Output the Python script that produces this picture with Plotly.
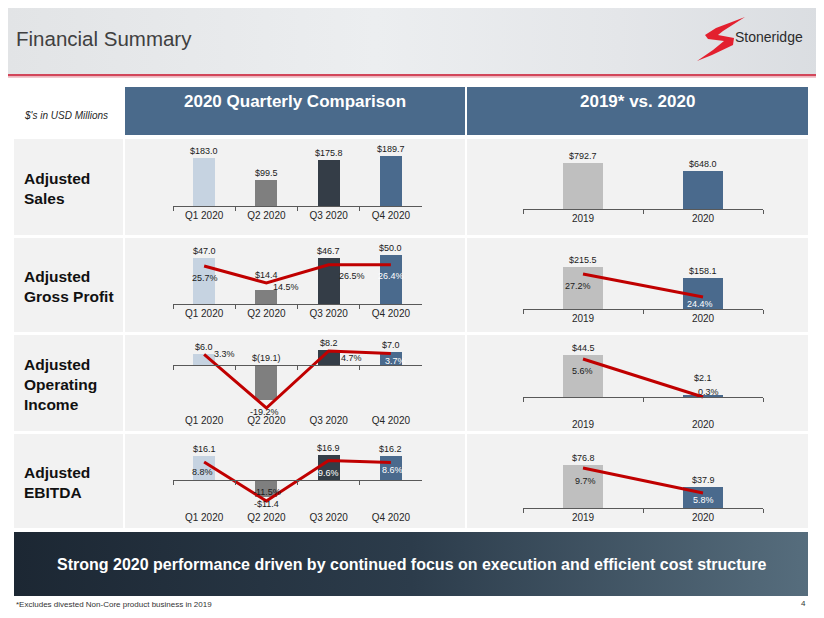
import base64
import plotly.graph_objects as go

W, H = 824, 618      # reference page size
OFF = 8              # page margin the browser puts round the figure
FW, FH = W - OFF, H - OFF

# --- data ---
quarters = ["Q1 2020", "Q2 2020", "Q3 2020", "Q4 2020"]
years = ["2019", "2020"]

q_sales = [183.0, 99.5, 175.8, 189.7]
q_gross_profit = [47.0, 14.4, 46.7, 50.0]
q_gp_margin = [25.7, 14.5, 26.5, 26.4]
q_op_income = [6.0, -19.1, 8.2, 7.0]
q_op_margin = [3.3, -19.2, 4.7, 3.7]
q_ebitda = [16.1, -11.4, 16.9, 16.2]
q_ebitda_margin = [8.8, -11.5, 9.6, 8.6]

y_sales = [792.7, 648.0]
y_gross_profit = [215.5, 158.1]
y_gp_margin = [27.2, 24.4]
y_op_income = [44.5, 2.1]
y_op_margin = [5.6, 0.3]
y_ebitda = [76.8, 37.9]
y_ebitda_margin = [9.7, 5.8]

row_labels = ["Adjusted<br>Sales", "Adjusted<br>Gross Profit",
              "Adjusted<br>Operating<br>Income", "Adjusted<br>EBITDA"]

# --- styles ---
q_colors = ["#c6d3e1", "#7f7f7f", "#343d47", "#4a6a8d"]
y_colors = ["#bfbfbf", "#4a6a8d"]
RED = "#c00000"
DARK = "#1a1a1a"
WHITE = "#ffffff"
AXIS = "#595959"
CELL = "#f2f2f2"
HEAD = "#4a6a8b"
SANS = "Liberation Sans, Arial, sans-serif"
NARROW = "Liberation Sans Narrow, Arial Narrow, Liberation Sans, sans-serif"

Q_X, A_X = (173, 422), (523, 763)

# one dict per small chart: geometry in page pixels, px-per-unit for the scales,
# label offsets (dx, dy) in pixels from each line point
charts = [
    dict(cats=quarters, bars=q_sales, colors=q_colors, x=Q_X, top=140, bottom=206,
         zero=206, ppu=0.2636, width=0.35),
    dict(cats=years, bars=y_sales, colors=y_colors, x=A_X, top=140, bottom=209,
         zero=209, ppu=0.058, width=0.33),
    dict(cats=quarters, bars=q_gross_profit, colors=q_colors, x=Q_X, top=240, bottom=304,
         zero=304, ppu=0.98, width=0.35, bar_shift=[0, 8, 0, 0],
         margins=q_gp_margin, mzero=305, mppu=1.52,
         moff=[(1, 12), (20, 4), (23, 11), (0, 11)],
         mcol=[DARK, DARK, DARK, WHITE]),
    dict(cats=years, bars=y_gross_profit, colors=y_colors, x=A_X, top=240, bottom=309,
         zero=309, ppu=0.195, width=0.33,
         margins=y_gp_margin, mzero=497, mppu=8.2,
         moff=[(-5, 12), (-3, 7)], mcol=[DARK, WHITE]),
    dict(cats=quarters, bars=q_op_income, colors=q_colors, x=Q_X, top=338, bottom=413,
         zero=365, ppu=1.85, width=0.35, neg="paren", low=True,
         margins=q_op_margin, mzero=362.2, mppu=2.385,
         moff=[(20, 0), (-2, 4), (23, 7), (5, 8)],
         mcol=[DARK, DARK, DARK, WHITE]),
    dict(cats=years, bars=y_op_income, colors=y_colors, x=A_X, top=338, bottom=417,
         zero=397, ppu=0.944, width=0.33, low=True, bar_shift=[0, 10],
         margins=y_op_margin, mzero=399.2, mppu=7.17,
         moff=[(-1, 12), (5, -5)], mcol=[DARK, DARK]),
    dict(cats=quarters, bars=q_ebitda, colors=q_colors, x=Q_X, top=438, bottom=510,
         zero=480, ppu=1.47, width=0.35, neg="minus", low=True,
         margins=q_ebitda_margin, mzero=478.9, mppu=1.92,
         moff=[(-2, 10), (1, -9), (0, 13), (2, 8)],
         mcol=[DARK, DARK, WHITE, WHITE]),
    dict(cats=years, bars=y_ebitda, colors=y_colors, x=A_X, top=438, bottom=508,
         zero=508, ppu=0.56, width=0.33,
         margins=y_ebitda_margin, mzero=530.2, mppu=6.41,
         moff=[(2, 13), (0, 7)], mcol=[DARK, WHITE]),
]


def px(p):
    return (p - OFF) / FW


def py(p):
    return 1 - (p - OFF) / FH


def money(v, style):
    if v >= 0:
        return f"${v:.1f}"
    if style == "paren":
        return f"$({-v:.1f})"
    return f"-${-v:.1f}"


def rect(x0, y0, x1, y1, color, layer="below"):
    # page-pixel rectangle, anchored at the top-left corner of the paper
    return dict(type="rect", xref="paper", yref="paper", xsizemode="pixel", ysizemode="pixel",
                xanchor=0, yanchor=1, x0=x0 - OFF, x1=x1 - OFF, y0=OFF - y0, y1=OFF - y1,
                fillcolor=color, line=dict(width=0), layer=layer)


def svg_uri(svg):
    return "data:image/svg+xml;base64," + base64.b64encode(svg.encode()).decode()


fig = go.Figure()
layout_axes = {}
annotations = []

for i, c in enumerate(charts):
    n = i + 1
    ncat = len(c["cats"])
    low = c.get("low", False)

    fig.add_trace(go.Bar(
        x=c["cats"], y=c["bars"], marker=dict(color=c["colors"], line=dict(width=0)),
        width=c["width"], xaxis=f"x{n}", yaxis=f"y{n}", hoverinfo="skip", showlegend=False))

    xa = dict(domain=[px(c["x"][0]), px(c["x"][1])], anchor=f"y{n}", type="category",
              range=[-0.5, ncat - 0.5], showgrid=False, zeroline=False, fixedrange=True,
              tickfont=dict(family=SANS, size=10, color="#262626"))
    if low:
        xa.update(showline=False, ticks="")
    else:
        xa.update(showline=True, linecolor=AXIS, linewidth=1, ticks="outside",
                  tickson="boundaries", ticklen=4, tickcolor=AXIS)
    layout_axes[f"xaxis{n}"] = xa

    yr = [(c["zero"] - c["bottom"]) / c["ppu"], (c["zero"] - c["top"]) / c["ppu"]]
    layout_axes[f"yaxis{n}"] = dict(domain=[py(c["bottom"]), py(c["top"])],
                                    anchor=f"x{n}", range=yr, visible=False, fixedrange=True)

    # value labels above / below bars (x as category index)
    shifts = c.get("bar_shift", [0] * ncat)
    for j, (v, s) in enumerate(zip(c["bars"], shifts)):
        below = v < 0 and c.get("neg") == "minus"
        annotations.append(dict(
            xref=f"x{n}", yref=f"y{n}", x=j, y=v if below else max(v, 0),
            yanchor="top" if below else "bottom", yshift=s, showarrow=False,
            text=money(v, c.get("neg")), font=dict(family=SANS, size=9, color=DARK)))

    if "margins" in c:
        m = n + 8
        mr = [(c["mzero"] - c["bottom"]) / c["mppu"], (c["mzero"] - c["top"]) / c["mppu"]]
        layout_axes[f"yaxis{m}"] = dict(overlaying=f"y{n}", anchor=f"x{n}", range=mr,
                                        visible=False, fixedrange=True)
        line_x = f"x{n}"
        if low:
            # axis line with boundary ticks drawn through zero
            line_x = f"x{m}"
            layout_axes[f"xaxis{m}"] = dict(
                overlaying=f"x{n}", anchor="free", position=py(c["zero"]),
                type="category", range=[-0.5, ncat - 0.5], showgrid=False, zeroline=False,
                showline=True, linecolor=AXIS, linewidth=1, ticks="outside",
                tickson="boundaries", ticklen=4, tickcolor=AXIS, showticklabels=False,
                fixedrange=True)
        fig.add_trace(go.Scatter(
            x=c["cats"], y=c["margins"], mode="lines", line=dict(color=RED, width=3),
            cliponaxis=False, xaxis=line_x, yaxis=f"y{m}",
            hoverinfo="skip", showlegend=False))
        # margin % labels next to the line points
        for j, (v, (dx, dy), col) in enumerate(zip(c["margins"], c["moff"], c["mcol"])):
            annotations.append(dict(
                xref=f"x{n}", yref=f"y{m}", x=j, y=v, xshift=dx, yshift=-dy,
                xanchor="center", yanchor="middle", showarrow=False,
                text=f"{v:.1f}%", font=dict(family=SANS, size=9, color=col)))

# --- slide furniture ---
shapes = []
row_bounds = [(139, 235), (238, 332), (335, 431), (434, 528)]
for (t, b) in row_bounds:
    shapes.append(rect(14, t, 123, b, CELL))
    shapes.append(rect(125, t, 465, b, CELL))
    shapes.append(rect(467, t, 808, b, CELL))
shapes.append(rect(125, 87, 465, 135, HEAD))
shapes.append(rect(467, 87, 808, 135, HEAD))
shapes.append(rect(OFF, 74, W, 76.5, "#d2465a"))
shapes.append(rect(OFF, 76.5, W, 78, "#f1c9cf"))
# logo mark (page pixels, shifted to the paper origin)
logo_pts = [(745, 17), (716, 28), (705, 35), (708, 39), (724, 41), (713, 50), (697, 61),
            (712, 55), (733, 45), (734, 38), (718, 35), (723, 31)]
logo_path = "M " + " L ".join(f"{x - OFF},{OFF - y}" for x, y in logo_pts) + " Z"
shapes.append(dict(
    type="path", xref="paper", yref="paper", xsizemode="pixel", ysizemode="pixel",
    xanchor=0, yanchor=1, fillcolor="#e3202f", line=dict(width=0), layer="above",
    path=logo_path))

header_svg = (
    '<svg xmlns="http://www.w3.org/2000/svg" width="816" height="66">'
    '<defs><linearGradient id="g" x1="0" y1="0" x2="1" y2="0">'
    '<stop offset="0" stop-color="#e2e4e6"/><stop offset="0.45" stop-color="#eceef0"/>'
    '<stop offset="0.75" stop-color="#e4e6e9"/><stop offset="1" stop-color="#dadde1"/>'
    '</linearGradient></defs><rect width="816" height="66" fill="url(#g)"/></svg>')
banner_svg = (
    '<svg xmlns="http://www.w3.org/2000/svg" width="794" height="64">'
    '<defs><linearGradient id="b" x1="0" y1="0" x2="1" y2="0">'
    '<stop offset="0" stop-color="#1c2733"/><stop offset="0.5" stop-color="#2c3c4b"/>'
    '<stop offset="1" stop-color="#566d7d"/></linearGradient></defs>'
    '<rect width="794" height="64" fill="url(#b)"/></svg>')

images = [
    dict(source=svg_uri(header_svg), xref="paper", yref="paper", x=0, y=1,
         sizex=1, sizey=66 / FH, sizing="stretch", xanchor="left", yanchor="top", layer="below"),
    dict(source=svg_uri(banner_svg), xref="paper", yref="paper", x=px(14), y=py(532),
         sizex=794 / FW, sizey=64 / FH, sizing="stretch", xanchor="left", yanchor="top",
         layer="below"),
]


def note(x, y, text, size, color=DARK, family=SANS, xanchor="left", **kw):
    return dict(xref="paper", yref="paper", x=px(x), y=py(y), text=text, showarrow=False,
                xanchor=xanchor, yanchor="middle", font=dict(family=family, size=size, color=color),
                **kw)


annotations += [
    note(14, 38, "Financial Summary", 20.5, color="#404040"),
    note(733, 37, "Stoneridge", 14, color="#2b2b2b", family=NARROW),
    note(22, 115, "<i>$'s in USD Millions</i>", 10, color="#262626"),
    note(295, 101, "<b>2020 Quarterly Comparison</b>", 17, color=WHITE, xanchor="center"),
    note(637, 101, "<b>2019* vs. 2020</b>", 17, color=WHITE, xanchor="center"),
    note(412, 564, "<b>Strong 2020 performance driven by continued focus on execution "
                   "and efficient cost structure</b>", 16, color=WHITE, family=NARROW,
         xanchor="center"),
    note(14, 604, "*Excludes divested Non-Core product business in 2019", 8,
         color="#333333", family=NARROW),
    note(808, 603, "4", 8, color="#333333", xanchor="right"),
]
for (t, b), lab in zip(row_bounds, row_labels):
    annotations.append(note(22, (t + b) / 2 + 1, f"<b>{lab}</b>", 15.5, color="#111111",
                            align="left"))

fig.update_layout(
    width=FW, height=FH, margin=dict(l=0, r=0, t=0, b=0),
    paper_bgcolor="white", plot_bgcolor="rgba(0,0,0,0)",
    hovermode=False, showlegend=False, bargap=0,
    shapes=shapes, images=images, annotations=annotations,
    **layout_axes,
)

fig.write_html("out.html")
